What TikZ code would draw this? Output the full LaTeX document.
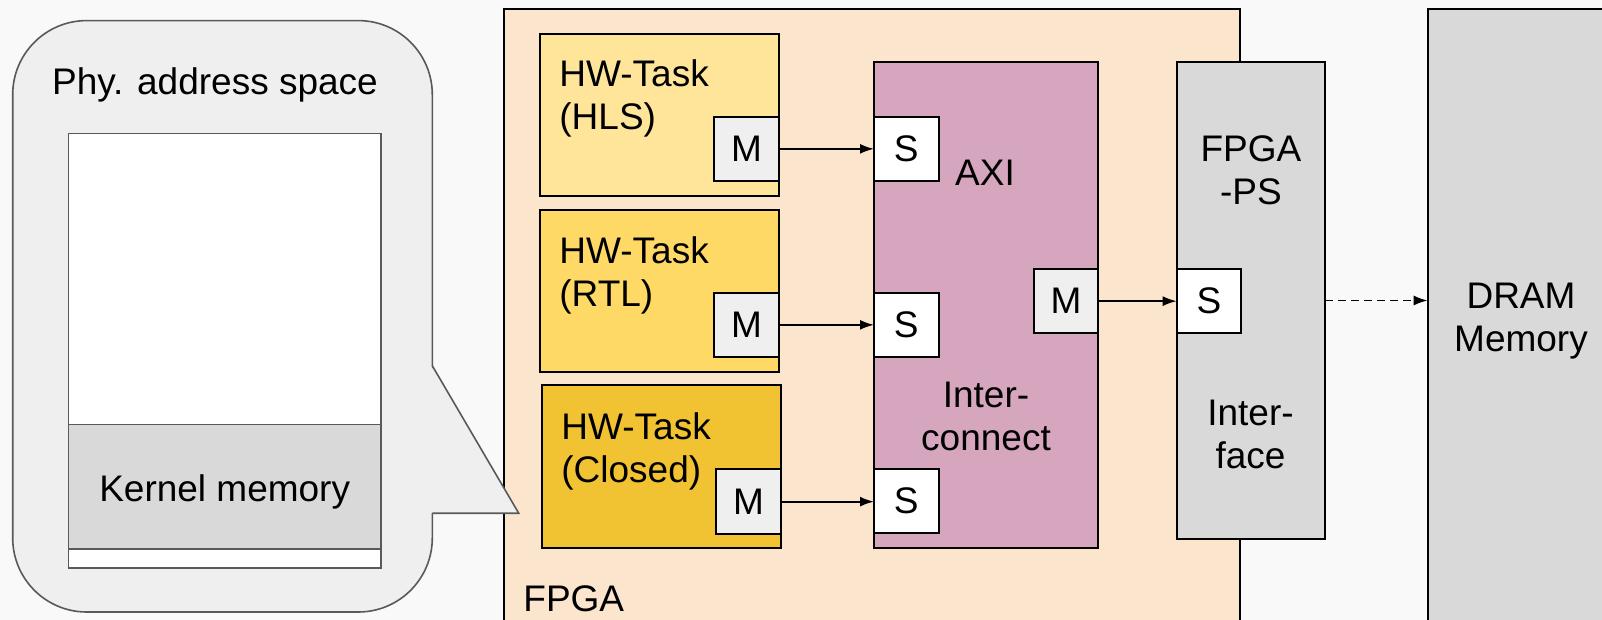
\documentclass[tikz,border=0pt]{standalone}
\usepackage{fontspec}
\setmainfont{Liberation Sans}
\usepackage{xcolor}
\usetikzlibrary{arrows.meta,positioning}

\definecolor{bgc}{HTML}{F9F9F9}
\definecolor{callfill}{HTML}{EFEFEF}
\definecolor{callline}{HTML}{595959}
\definecolor{fpgafill}{HTML}{FCE5CD}
\definecolor{hlsfill}{HTML}{FFE599}
\definecolor{rtlfill}{HTML}{FFD966}
\definecolor{closedfill}{HTML}{F1C232}
\definecolor{axifill}{HTML}{D5A6BD}
\definecolor{greyfill}{HTML}{D9D9D9}
\definecolor{portfill}{HTML}{EFEFEF}

\begin{document}
\begin{tikzpicture}[
    x=0.5pt,
    y=-0.5pt,
    >={Latex[length=7pt,width=5pt]},
    every node/.style={font=\fontsize{18.5}{21.5}\selectfont, inner sep=0pt},
    blk/.style={draw, line width=1pt, anchor=north west,
        inner sep=0pt, outer sep=0pt},
    port/.style={blk, fill=portfill, minimum width=32.25pt,
        minimum height=32.25pt},
    conn/.style={->, line width=0.9pt}
]

\useasboundingbox (0,0) rectangle (1602,620);
\fill[bgc] (0,0) rectangle (1602,620);

% ---------------------------------------------------------
% FPGA and DRAM
% ---------------------------------------------------------

\node[blk, fill=fpgafill, minimum width=368pt, minimum height=350pt]
    (fpga) at (504,9.5) {};

\node[anchor=base west] (fpgalbl) at (523,611) {FPGA};

\node[blk, fill=greyfill, minimum width=150pt, minimum height=350pt]
    (dram) at (1427.7,8.7) {};

% base anchor sits on the last line
\node[align=center, anchor=base] (dramlbl) at (1521,352)
    {DRAM\\Memory};

% ---------------------------------------------------------
% HW tasks
% ---------------------------------------------------------

\node[blk, fill=hlsfill, minimum width=119.65pt, minimum height=81.45pt]
    (hls) at (539.5,33.6) {};
\node[blk, fill=rtlfill, minimum width=119.65pt, minimum height=81.45pt]
    (rtl) at (539.5,209.6) {};
\node[blk, fill=closedfill, minimum width=119.6pt, minimum height=81.85pt]
    (closed) at (541.5,384.7) {};

\node[align=left, anchor=base west] (hlslbl) at (559,130)
    {HW-Task\\(HLS)};
\node[align=left, anchor=base west] (rtllbl) at (559,306.5)
    {HW-Task\\(RTL)};
\node[align=left, anchor=base west] (closedlbl) at (561,482)
    {HW-Task\\(Closed)};

\node[port] (mhls) at (714.3,116.6) {M};
\node[port] (mrtl) at (714.3,292.6) {M};
\node[port] (mclosed) at (716.3,469.4) {M};

% ---------------------------------------------------------
% AXI interconnect
% ---------------------------------------------------------

\node[blk, fill=axifill, minimum width=111.95pt, minimum height=242.95pt]
    (axi) at (874,62.5) {};

\node[anchor=base] (axilbl) at (985,185.8) {AXI};
\node[align=center, anchor=base] (iclbl) at (986,450.8)
    {Inter-\\connect};

\node[port, fill=white] (shls) at (874,116.6) {S};
\node[port, fill=white] (srtl) at (874,292.6) {S};
\node[port, fill=white] (sclosed) at (874,468.6) {S};
\node[port] (maxi) at (1033.8,268.9) {M};

% ---------------------------------------------------------
% FPGA-PS interface
% ---------------------------------------------------------

\node[blk, fill=greyfill, minimum width=74.15pt, minimum height=238pt]
    (psif) at (1176.7,62.5) {};

\node[align=center, anchor=base] (pslbl) at (1251,204.8)
    {FPGA\\-PS};
\node[align=center, anchor=base] (iflbl) at (1250.5,468.6)
    {Inter-\\face};

\node[port, fill=white, minimum width=32.15pt] (sps) at (1176.7,268.9) {S};

% Connections
\draw[conn] (mhls) -- (shls);
\draw[conn] (mrtl) -- (srtl);
\draw[conn] (mclosed.east) -- (mclosed.east -| sclosed.west);
\draw[conn] (maxi) -- (sps);
\draw[conn, dash pattern=on 4pt off 2.5pt] (psif.east) -- (psif.east -| dram.west);

% ---------------------------------------------------------
% Physical address space callout
% ---------------------------------------------------------

\filldraw[fill=callfill, draw=callline, line width=0.8pt, rounded corners=37pt]
    (12.7,20.6) rectangle (432.3,612);

% pointer towards the FPGA
\fill[callfill]
    (431.2,365.8) -- (518.7,513.2) -- (431.2,513.2) -- cycle;
\draw[callline, line width=0.8pt, line join=miter]
    (432.3,365.8) -- (518.7,513.2) -- (432.3,513.2);

\node[anchor=base] (phylbl) at (215,95) {Phy. address space};

\node[blk, draw=callline, line width=0.8pt, fill=white,
    minimum width=156.2pt, minimum height=217.3pt]
    (space) at (68.3,133.6) {};

\node[blk, draw=callline, line width=0.8pt, fill=greyfill,
    minimum width=156.2pt, minimum height=62.25pt]
    (kernel) at (68.3,424.3) {};

\node[anchor=base] (kernellbl) at (224.7,501) {Kernel memory};

\end{tikzpicture}
\end{document}
